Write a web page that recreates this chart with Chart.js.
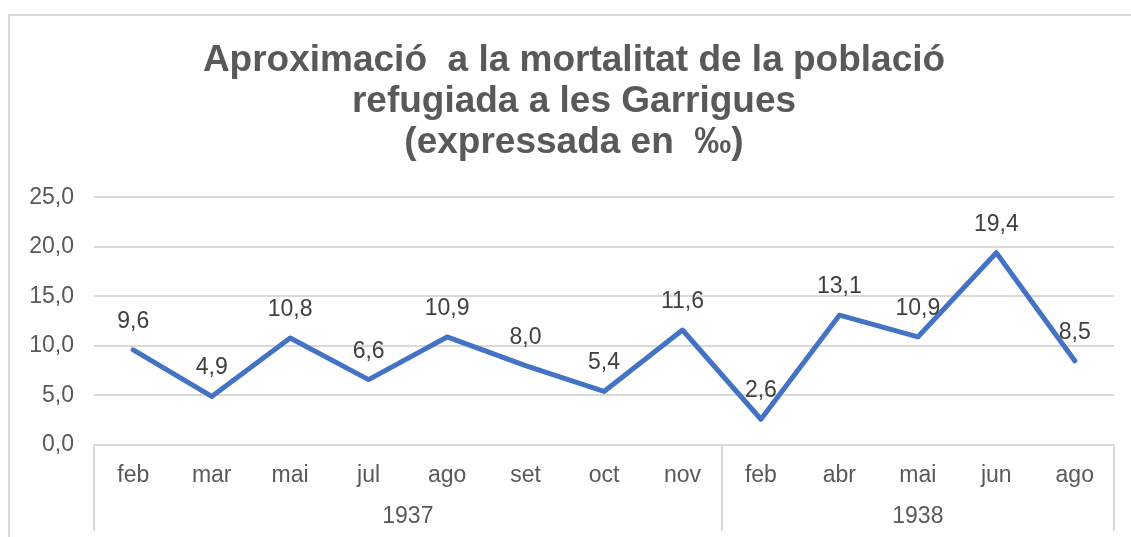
<!DOCTYPE html>
<html><head><meta charset="utf-8">
<script src="https://cdn.jsdelivr.net/npm/chart.js@4"></script>
<style>html,body{margin:0;padding:0;background:#fff;overflow:hidden}</style>
</head><body>
<canvas id="c" width="1131" height="537" style="display:block;width:1131px;height:537px"></canvas>
<script>
const titleLines = ['Aproximació  a la mortalitat de la població', 'refugiada a les Garrigues', '(expressada en  ‰)'];
const months = ['feb','mar','mai','jul','ago','set','oct','nov','feb','abr','mai','jun','ago'];
const values = [9.6, 4.9, 10.8, 6.6, 10.9, 8.0, 5.4, 11.6, 2.6, 13.1, 10.9, 19.4, 8.5];
const years = ['1937', '1938'];
const yearSpans = [8, 5];
const yMin = 0, yMax = 25, yStep = 5;

const FONT = '"Liberation Sans", Arial, sans-serif';
const fmt = v => Number(v).toFixed(1).replace('.', ',');

const framePlugin = {
  id: 'frame',
  afterLayout(chart) {
    // centre the title over the whole framed chart rather than the padded box
    const tb = chart.titleBlock;
    if (tb) { tb.left += 17; tb.right += 17; }
  },
  beforeDraw(chart) {
    const ctx = chart.ctx;
    ctx.save();
    ctx.strokeStyle = '#d9d9d9';
    ctx.lineWidth = 2;
    ctx.beginPath();
    ctx.moveTo(9, chart.height);
    ctx.lineTo(9, 15);
    ctx.lineTo(chart.width, 15);
    ctx.stroke();
    ctx.restore();
  }
};

const groupPlugin = {
  id: 'groups',
  afterDraw(chart) {
    const ctx = chart.ctx;
    const xs = chart.scales.x;
    const area = chart.chartArea;
    const step = xs.getPixelForValue(1) - xs.getPixelForValue(0);
    ctx.save();
    ctx.strokeStyle = '#d9d9d9';
    ctx.lineWidth = 2;
    ctx.fillStyle = '#595959';
    ctx.font = '23px ' + FONT;
    ctx.textAlign = 'center';
    ctx.textBaseline = 'alphabetic';
    let start = 0;
    const bounds = [xs.getPixelForValue(0) - step / 2];
    years.forEach((y, i) => {
      const end = start + yearSpans[i] - 1;
      const left = xs.getPixelForValue(start) - step / 2;
      const right = xs.getPixelForValue(end) + step / 2;
      bounds.push(right);
      ctx.fillText(y, (left + right) / 2, 523);
      start = end + 1;
    });
    ctx.beginPath();
    bounds.forEach(b => {
      const bx = Math.round(b);
      ctx.moveTo(bx, area.bottom);
      ctx.lineTo(bx, 531);
    });
    ctx.stroke();
    ctx.restore();
  }
};

const labelPlugin = {
  id: 'pointLabels',
  afterDatasetsDraw(chart) {
    const ctx = chart.ctx;
    const meta = chart.getDatasetMeta(0);
    ctx.save();
    ctx.fillStyle = '#404040';
    ctx.font = '23px ' + FONT;
    ctx.textAlign = 'center';
    ctx.textBaseline = 'alphabetic';
    meta.data.forEach((pt, i) => {
      ctx.fillText(fmt(values[i]), pt.x, pt.y - 22);
    });
    ctx.restore();
  }
};

new Chart(document.getElementById('c'), {
  type: 'line',
  data: {
    labels: months,
    datasets: [{
      data: values,
      borderColor: '#4472C4',
      borderWidth: 5,
      borderJoinStyle: 'round',
      borderCapStyle: 'round',
      pointRadius: 0,
      tension: 0,
      fill: false
    }]
  },
  options: {
    responsive: false,
    animation: false,
    layout: { padding: { left: 0, right: 17, top: 0, bottom: 0 } },
    plugins: {
      legend: { display: false },
      tooltip: { enabled: false },
      title: {
        display: true,
        text: titleLines,
        color: '#595959',
        font: { family: FONT, size: 37, weight: 'bold', lineHeight: 1.11 },
        padding: { top: 40, bottom: 34 }
      }
    },
    scales: {
      x: {
        offset: true,
        grid: { display: false, drawTicks: false },
        border: { display: true, color: '#d9d9d9', width: 2 },
        ticks: { color: '#595959', font: { family: FONT, size: 23 }, padding: 17, maxRotation: 0, autoSkip: false },
        afterFit(s) { s.height = 92; }
      },
      y: {
        min: yMin, max: yMax,
        grid: { color: '#d9d9d9', lineWidth: 2, drawTicks: false },
        border: { display: false },
        ticks: { stepSize: yStep, color: '#595959', font: { family: FONT, size: 23 }, padding: 20, callback: v => fmt(v) },
        afterFit(s) { s.width = 94; }
      }
    }
  },
  plugins: [framePlugin, groupPlugin, labelPlugin]
});
</script>
</body></html>
